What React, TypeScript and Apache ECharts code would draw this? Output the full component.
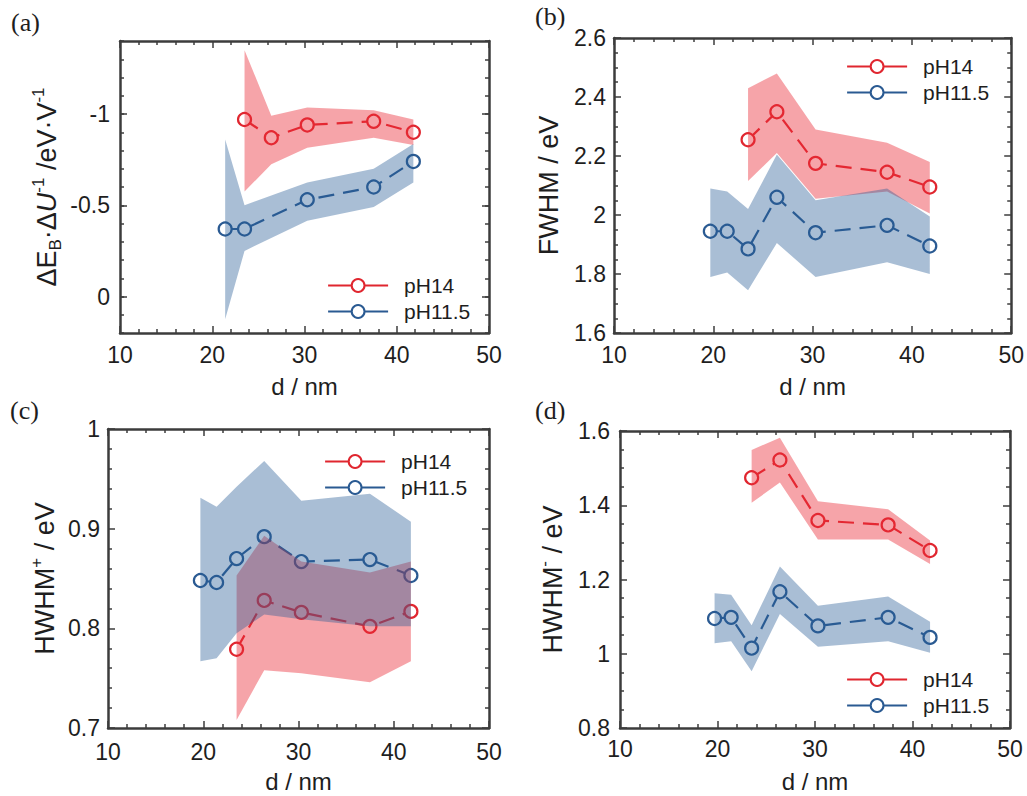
import React, { useEffect, useRef } from "react";
import * as echarts from "echarts";

// ---------- data ----------
const xBlue = [19.7, 21.4, 23.5, 26.4, 30.3, 37.5, 41.8];
const xRed = [23.5, 26.4, 30.3, 37.5, 41.8];
const xBlueA = [21.4, 23.5, 30.3, 37.5, 41.8];

// (a) ΔE_B·ΔU^-1
const aRed = [-0.97, -0.87, -0.94, -0.96, -0.9];
const aRedHi = [-1.35, -0.99, -1.035, -1.02, -0.97];
const aRedLo = [-0.575, -0.725, -0.815, -0.87, -0.83];
const aBlue = [-0.37, -0.37, -0.53, -0.6, -0.74];
const aBlueHi = [-0.86, -0.5, -0.625, -0.7, -0.835];
const aBlueLo = [0.125, -0.25, -0.415, -0.49, -0.625];

// (b) FWHM
const bRed = [2.255, 2.35, 2.175, 2.145, 2.095];
const bRedHi = [2.43, 2.48, 2.29, 2.245, 2.18];
const bRedLo = [2.115, 2.21, 2.055, 2.08, 2.005];
const bBlue = [1.945, 1.945, 1.885, 2.06, 1.94, 1.965, 1.895];
const bBlueHi = [2.09, 2.08, 2.02, 2.205, 2.05, 2.09, 1.995];
const bBlueLo = [1.79, 1.805, 1.745, 1.905, 1.79, 1.84, 1.8];

// (c) HWHM+
const cRed = [0.779, 0.828, 0.816, 0.802, 0.817];
const cRedHi = [0.853, 0.893, 0.867, 0.856, 0.867];
const cRedLo = [0.708, 0.758, 0.755, 0.746, 0.767];
const cBlue = [0.848, 0.846, 0.87, 0.892, 0.867, 0.869, 0.853];
const cBlueHi = [0.931, 0.922, 0.942, 0.968, 0.928, 0.935, 0.907];
const cBlueLo = [0.767, 0.77, 0.795, 0.814, 0.809, 0.802, 0.802];

// (d) HWHM-
const dRed = [1.474, 1.522, 1.359, 1.347, 1.278];
const dRedHi = [1.549, 1.582, 1.411, 1.389, 1.305];
const dRedLo = [1.407, 1.461, 1.308, 1.308, 1.242];
const dBlue = [1.095, 1.098, 1.015, 1.167, 1.075, 1.098, 1.044];
const dBlueHi = [1.163, 1.159, 1.077, 1.235, 1.129, 1.154, 1.086];
const dBlueLo = [1.028, 1.034, 0.953, 1.107, 1.019, 1.034, 1.003];

const seriesNames = ["pH14", "pH11.5"];
const xTickRange = [10, 50];

// ---------- style ----------
const RED = "#e0262f";
const BLUE = "#2a5a92";
const RED_BAND = "rgba(234,44,56,0.43)";
const BLUE_BAND = "rgba(40,92,150,0.40)";
const FRAME = "#3c3c3c";
const TEXT = "#1e1e1e";
const SANS = "'Liberation Sans', Arial, Helvetica, sans-serif";
const SERIF = "'Liberation Serif', 'Times New Roman', serif";

type Panel = {
  label: string;
  grid: { left: number; top: number; width: number; height: number };
  yMin: number;
  yMax: number;
  yInterval: number;
  yMinorSplit: number;
  inverse?: boolean;
  majorCustom?: number[];
  yName: string;
  yNameGap: number;
  xLabelMargin: number;
  yLabelMargin: number;
  legend: { left: number; top: number };
  labelPos: { x: number; y: number };
  red: { x: number[]; y: number[]; hi: number[]; lo: number[] };
  blue: { x: number[]; y: number[]; hi: number[]; lo: number[] };
};

const panels: Panel[] = [
  {
    label: "(a)",
    grid: { left: 120, top: 41, width: 369, height: 292 },
    yMin: -1.4,
    yMax: 0.2,
    yInterval: 0.1,
    yMinorSplit: 0,
    inverse: true,
    majorCustom: [-1, -0.5, 0],
    yName: "{n|ΔE}{sub|B}{n|·Δ}{i|U}{sup|-1}{n| /eV·V}{sup|-1}",
    yNameGap: 56,
    xLabelMargin: 10,
    yLabelMargin: 10,
    legend: { left: 322, top: 270 },
    labelPos: { x: 11, y: 9 },
    red: { x: xRed, y: aRed, hi: aRedHi, lo: aRedLo },
    blue: { x: xBlueA, y: aBlue, hi: aBlueHi, lo: aBlueLo },
  },
  {
    label: "(b)",
    grid: { left: 614, top: 38, width: 400, height: 295 },
    yMin: 1.6,
    yMax: 2.6,
    yInterval: 0.2,
    yMinorSplit: 4,
    yName: "{n|FWHM / eV}",
    yNameGap: 48,
    xLabelMargin: 10,
    yLabelMargin: 8,
    legend: { left: 841, top: 51 },
    labelPos: { x: 535, y: 3 },
    red: { x: xRed, y: bRed, hi: bRedHi, lo: bRedLo },
    blue: { x: xBlue, y: bBlue, hi: bBlueHi, lo: bBlueLo },
  },
  {
    label: "(c)",
    grid: { left: 108, top: 429, width: 381, height: 299 },
    yMin: 0.7,
    yMax: 1,
    yInterval: 0.1,
    yMinorSplit: 5,
    yName: "{n|HWHM}{sup|+}{n| / eV}",
    yNameGap: 46,
    xLabelMargin: 12,
    yLabelMargin: 8,
    legend: { left: 319, top: 446 },
    labelPos: { x: 10, y: 397 },
    red: { x: xRed, y: cRed, hi: cRedHi, lo: cRedLo },
    blue: { x: xBlue, y: cBlue, hi: cBlueHi, lo: cBlueLo },
  },
  {
    label: "(d)",
    grid: { left: 620, top: 431, width: 390, height: 297 },
    yMin: 0.8,
    yMax: 1.6,
    yInterval: 0.2,
    yMinorSplit: 4,
    yName: "{n|HWHM}{sup|-}{n| / eV}",
    yNameGap: 50,
    xLabelMargin: 9,
    yLabelMargin: 10,
    legend: { left: 841, top: 664 },
    labelPos: { x: 535, y: 397 },
    red: { x: xRed, y: dRed, hi: dRedHi, lo: dRedLo },
    blue: { x: xBlue, y: dBlue, hi: dBlueHi, lo: dBlueLo },
  },
];

const nameRich = {
  n: { fontSize: 27, fontFamily: SANS, color: TEXT, lineHeight: 34, verticalAlign: "middle" as const },
  i: { fontSize: 27, fontFamily: SANS, fontStyle: "italic" as const, color: TEXT, lineHeight: 34, verticalAlign: "middle" as const },
  sub: { fontSize: 17, fontFamily: SANS, color: TEXT, lineHeight: 16, verticalAlign: "bottom" as const },
  sup: { fontSize: 17, fontFamily: SANS, color: TEXT, lineHeight: 19, verticalAlign: "top" as const },
};

function buildOption() {
  const grids: any[] = [];
  const xAxes: any[] = [];
  const yAxes: any[] = [];
  const series: any[] = [];
  const legends: any[] = [];
  const graphics: any[] = [];

  const tickStyle = { color: FRAME, width: 1.5 };
  const lineStyle = { color: FRAME, width: 2.5 };

  panels.forEach((p, gi) => {
    grids.push({ ...p.grid, containLabel: false });

    const xBase = {
      type: "value",
      gridIndex: gi,
      min: xTickRange[0],
      max: xTickRange[1],
      interval: 10,
      splitLine: { show: false },
      axisLine: { show: true, onZero: false, lineStyle },
      axisTick: { show: true, inside: true, length: 7, lineStyle: tickStyle },
      minorTick: { show: true, splitNumber: 5, length: 4, lineStyle: tickStyle },
    };
    const xi = xAxes.length;
    xAxes.push({
      ...xBase,
      position: "bottom",
      name: "d / nm",
      nameLocation: "middle",
      nameGap: 41,
      nameTextStyle: { fontSize: 24, fontFamily: SANS, color: TEXT },
      axisLabel: { show: true, fontSize: 23, fontFamily: SANS, color: TEXT, margin: p.xLabelMargin },
    });
    xAxes.push({ ...xBase, position: "top", axisLabel: { show: false } });

    const hasCustom = !!p.majorCustom;
    const yBase = {
      type: "value",
      gridIndex: gi,
      min: p.yMin,
      max: p.yMax,
      interval: p.yInterval,
      inverse: !!p.inverse,
      splitLine: { show: false },
      axisLine: { show: true, onZero: false, lineStyle },
      axisTick: { show: true, inside: true, length: hasCustom ? 4 : 7, lineStyle: tickStyle },
      minorTick: { show: !hasCustom, splitNumber: p.yMinorSplit || 5, length: 4, lineStyle: tickStyle },
    };
    const yi = yAxes.length;
    yAxes.push({
      ...yBase,
      position: "left",
      name: p.yName,
      nameLocation: "middle",
      nameRotate: 90,
      nameGap: p.yNameGap,
      nameTextStyle: { rich: nameRich },
      axisLabel: {
        show: true,
        fontSize: 23,
        fontFamily: SANS,
        color: TEXT,
        margin: p.yLabelMargin,
        ...(hasCustom ? { customValues: p.majorCustom } : {}),
      },
    });
    yAxes.push({ ...yBase, position: "right", axisLabel: { show: false } });
    if (hasCustom) {
      const majorAxis = {
        type: "value",
        gridIndex: gi,
        min: p.yMin,
        max: p.yMax,
        interval: p.yInterval,
        inverse: !!p.inverse,
        splitLine: { show: false },
        axisLine: { show: false },
        axisLabel: { show: false },
        axisTick: { show: true, inside: true, length: 7, lineStyle: tickStyle, customValues: p.majorCustom },
      };
      yAxes.push({ ...majorAxis, position: "left" });
      yAxes.push({ ...majorAxis, position: "right" });
    }

    const band = (d: { x: number[]; hi: number[]; lo: number[] }, fill: string, z: number) => ({
      type: "custom",
      xAxisIndex: xi,
      yAxisIndex: yi,
      z,
      silent: true,
      data: [[d.x[0], d.hi[0]]],
      renderItem: (_params: any, api: any) => {
        const pts: number[][] = [];
        for (let k = 0; k < d.x.length; k++) pts.push(api.coord([d.x[k], d.hi[k]]));
        for (let k = d.x.length - 1; k >= 0; k--) pts.push(api.coord([d.x[k], d.lo[k]]));
        return { type: "polygon", shape: { points: pts }, style: { fill, stroke: "none" } };
      },
    });

    const line = (name: string, d: { x: number[]; y: number[] }, color: string) => ({
      type: "line",
      name,
      xAxisIndex: xi,
      yAxisIndex: yi,
      z: 2,
      data: d.x.map((x, k) => [x, d.y[k]]),
      symbol: "circle",
      symbolSize: 13,
      showAllSymbol: true,
      lineStyle: { color, width: 2.2, type: [16, 9] },
      itemStyle: { color: "#ffffff", borderColor: color, borderWidth: 2.2 },
      emphasis: { disabled: true },
    });

    series.push(line(seriesNames[0], p.red, RED));
    series.push(line(seriesNames[1], p.blue, BLUE));
    series.push(band(p.red, RED_BAND, 3));
    series.push(band(p.blue, BLUE_BAND, 4));

    legends.push({
      left: p.legend.left,
      top: p.legend.top,
      orient: "vertical",
      itemWidth: 60,
      itemHeight: 16,
      itemGap: 5,
      selectedMode: false,
      data: seriesNames,
      lineStyle: { type: "solid", width: 2.2 },
      textStyle: { fontSize: 21, fontFamily: SANS, color: TEXT, padding: [0, 0, 0, 11] },
    });

    graphics.push({
      type: "text",
      left: p.labelPos.x,
      top: p.labelPos.y,
      style: { text: p.label, fontSize: 26, fontFamily: SERIF, fill: TEXT },
    });
  });

  return {
    animation: false,
    backgroundColor: "#ffffff",
    grid: grids,
    xAxis: xAxes,
    yAxis: yAxes,
    legend: legends,
    series,
    graphic: graphics,
  };
}

export default function App() {
  const ref = useRef<HTMLDivElement>(null);
  useEffect(() => {
    if (!ref.current) return;
    const chart = echarts.init(ref.current, null, { renderer: "svg" });
    chart.setOption(buildOption() as any);
    return () => chart.dispose();
  }, []);
  return (
    <div
      ref={ref}
      style={{ position: "absolute", left: 0, top: 0, width: 1027, height: 796, background: "#fff" }}
    />
  );
}
